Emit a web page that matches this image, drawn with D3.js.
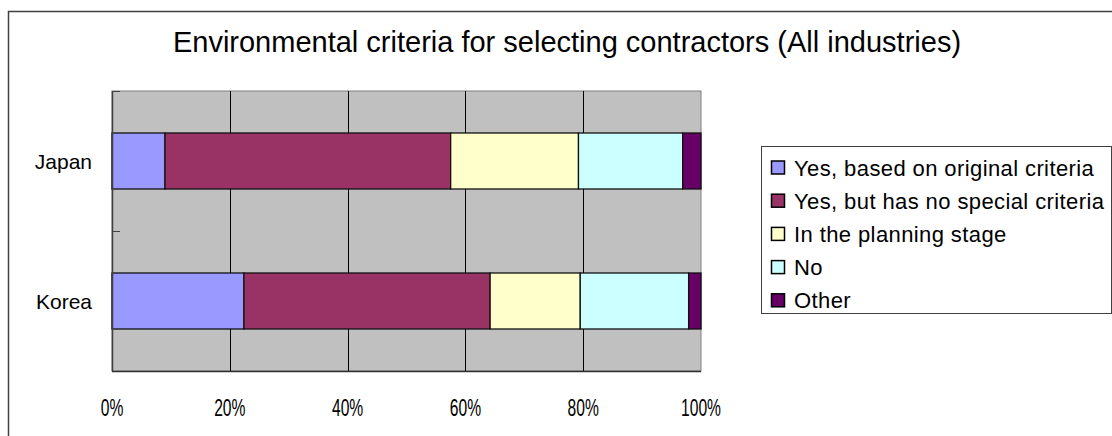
<!DOCTYPE html>
<html>
<head>
<meta charset="utf-8">
<script src="https://cdn.jsdelivr.net/npm/d3@7"></script>
<style>
  body { margin: 0; background: #fff; }
  text { font-family: "Liberation Sans", Arial, sans-serif; fill: #000; }
</style>
</head>
<body>
<script>
const countries = ["Japan", "Korea"];
const answers = [
  "Yes, based on original criteria",
  "Yes, but has no special criteria",
  "In the planning stage",
  "No",
  "Other"
];
// shares in percent, same order as answers
const japanShares = [9.0, 48.5, 21.7, 17.7, 3.1];
const koreaShares = [22.4, 41.8, 15.3, 18.4, 2.1];
const tickValues = [0, 20, 40, 60, 80, 100];
const colors = ["#9999FF", "#993366", "#FFFFCC", "#CCFFFF", "#660066"];

const width = 1112;
const height = 436;
const plot = { left: 112, right: 701, top: 91, bottom: 371 };

const rows = countries.map((c, i) => {
  const shares = i === 0 ? japanShares : koreaShares;
  const row = { country: c };
  answers.forEach((a, j) => { row[a] = shares[j]; });
  return row;
});

const svg = d3.select("body").append("svg")
  .attr("width", width)
  .attr("height", height);

// outer chart border (only left and top visible in frame)
svg.append("rect")
  .attr("x", 8.5).attr("y", 11.5)
  .attr("width", 1130).attr("height", 450)
  .attr("style", "fill: none; stroke: #404040; stroke-width: 1.5px;");

svg.append("text")
  .text("Environmental criteria for selecting contractors (All industries)")
  .attr("x", 567)
  .attr("y", 52)
  .attr("style", "text-anchor: middle; font-size: 29px;");

const x = d3.scaleLinear().domain([0, 100]).range([plot.left, plot.right]);
const y = d3.scaleBand().domain(countries)
  .range([plot.top, plot.bottom])
  .paddingInner(0.6)
  .paddingOuter(0.3);

function addPlotArea() {
  svg.append("rect")
    .attr("x", plot.left).attr("y", plot.top)
    .attr("width", plot.right - plot.left)
    .attr("height", plot.bottom - plot.top)
    .attr("style", "fill: #C0C0C0; stroke: #808080; stroke-width: 1px;");

  svg.selectAll(".grid")
    .data(tickValues.slice(1, -1))
    .enter().append("line")
    .attr("x1", (d) => Math.round(x(d)) + 0.5)
    .attr("x2", (d) => Math.round(x(d)) + 0.5)
    .attr("y1", plot.top)
    .attr("y2", plot.bottom)
    .attr("style", "stroke: #000; stroke-width: 1px;");
}

function addBars() {
  const series = d3.stack().keys(answers)(rows);

  svg.selectAll(".series")
    .data(series)
    .enter().append("g")
    .attr("fill", (d, i) => colors[i])
    .selectAll("rect")
    .data((d) => d)
    .enter().append("rect")
    .attr("x", (d) => x(d[0]))
    .attr("y", (d) => y(d.data.country))
    .attr("width", (d) => x(d[1]) - x(d[0]))
    .attr("height", y.bandwidth())
    .attr("style", "stroke: #111; stroke-width: 1.3px;");
}

function addAxes() {
  // left axis line with inside ticks at category boundaries
  svg.append("line")
    .attr("x1", plot.left + 0.5).attr("x2", plot.left + 0.5)
    .attr("y1", plot.top).attr("y2", plot.bottom)
    .attr("style", "stroke: #404040; stroke-width: 1.5px;");

  const half = (y.step() - y.bandwidth()) / 2;
  const bounds = countries.map((c) => y(c) - half).concat([plot.bottom]);

  svg.selectAll(".ytick")
    .data(bounds)
    .enter().append("line")
    .attr("x1", plot.left)
    .attr("x2", plot.left + 8)
    .attr("y1", (d) => Math.round(d) + 0.5)
    .attr("y2", (d) => Math.round(d) + 0.5)
    .attr("style", "stroke: #404040; stroke-width: 1px;");

  svg.append("line")
    .attr("x1", plot.left).attr("x2", plot.right)
    .attr("y1", plot.bottom + 0.5).attr("y2", plot.bottom + 0.5)
    .attr("style", "stroke: #303030; stroke-width: 1.5px;");

  svg.selectAll(".countryLabel")
    .data(countries)
    .enter().append("text")
    .text((d) => d)
    .attr("x", plot.left - 20)
    .attr("y", (d) => y(d) + y.bandwidth() / 2 + 8)
    .attr("style", "text-anchor: end; font-size: 21px;");

  // tick labels are drawn tall and narrow in the original
  svg.selectAll(".xLabel")
    .data(tickValues)
    .enter().append("text")
    .text((d) => `${d}%`)
    .attr("transform", (d) => `translate(${x(d)},416) scale(0.68,1)`)
    .attr("style", "text-anchor: middle; font-size: 23px;");
}

function addLegend() {
  const lg = svg.append("g").attr("transform", "translate(761,146)");

  lg.append("rect")
    .attr("x", 0.5).attr("y", 0.5)
    .attr("width", 350).attr("height", 167)
    .attr("style", "fill: #fff; stroke: #404040; stroke-width: 1px;");

  const items = lg.selectAll(".legendItem")
    .data(answers)
    .enter().append("g")
    .attr("transform", (d, i) => `translate(0,${21.5 + i * 33.2})`);

  items.append("rect")
    .attr("x", 10.5).attr("y", -6.5)
    .attr("width", 13).attr("height", 13)
    .attr("style", (d, i) => `fill: ${colors[i]}; stroke: #000; stroke-width: 1.5px;`);

  items.append("text")
    .text((d) => d)
    .attr("x", 33)
    .attr("y", 8)
    .attr("style", "font-size: 22px; letter-spacing: 0.4px;");
}

addPlotArea();
addBars();
addAxes();
addLegend();
</script>
</body>
</html>
